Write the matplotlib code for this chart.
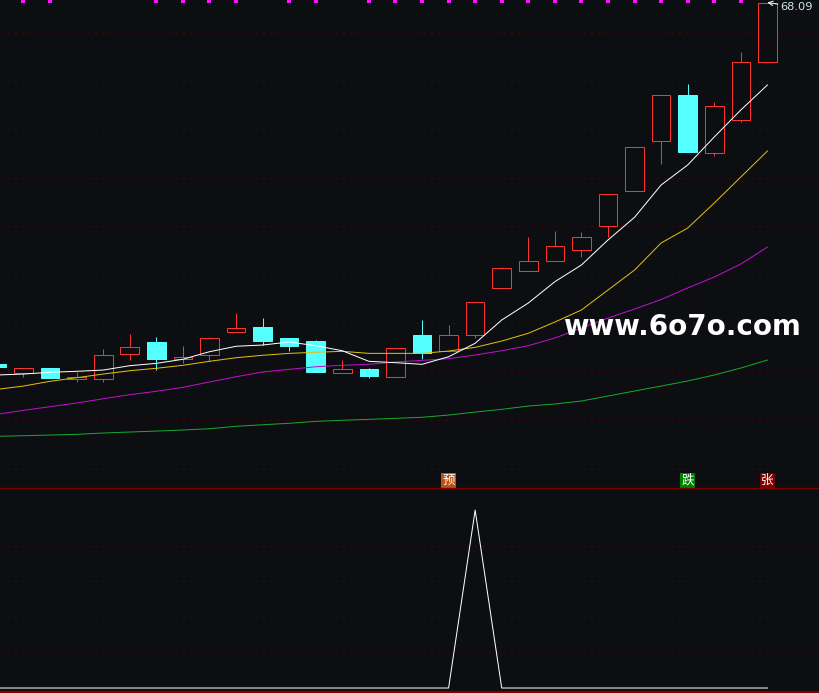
import matplotlib
matplotlib.use("Agg")
import matplotlib.pyplot as plt

plt.rcParams['font.family'] = ['Noto Sans CJK SC', 'DejaVu Sans']

BG = "#0d0e11"
RED = "#ff3232"
CYAN = "#54ffff"
GRID = "#4a0606"

# candles, index 0 is cut off by the left edge
opens = [30.82, 29.92, 30.41, 29.27, 29.31, 31.82, 33.09, 31.34, 31.72, 34.09,
         34.64, 33.5, 33.19, 29.92, 30.31, 29.51, 33.81, 32.19, 33.84, 38.63,
         40.38, 41.41, 42.54, 45.02, 48.63, 53.78, 58.56, 52.61, 55.95, 61.93]
closes = [30.51, 30.38, 29.38, 29.48, 31.72, 32.54, 31.34, 31.54, 33.47, 34.5,
          33.19, 32.68, 29.99, 30.31, 29.59, 32.44, 31.96, 33.78, 37.18, 40.69,
          41.41, 42.96, 43.88, 48.32, 53.16, 58.52, 52.71, 57.39, 61.93, 68.09]
highs = [30.82, 30.38, 30.41, 30.0, 32.37, 33.91, 33.61, 32.68, 33.61, 36.08,
         35.56, 33.5, 33.3, 31.23, 30.41, 32.44, 35.36, 34.84, 37.18, 40.82,
         43.92, 44.53, 44.43, 48.32, 53.16, 58.52, 59.69, 57.83, 62.99, 68.09]
lows = [30.51, 29.48, 29.38, 28.97, 28.97, 31.23, 30.2, 30.92, 31.13, 34.09,
        32.78, 32.16, 29.99, 29.92, 29.38, 29.51, 31.34, 32.16, 33.5, 38.63,
        40.38, 41.41, 41.85, 43.95, 48.63, 51.47, 52.71, 52.3, 55.77, 61.93]

# moving averages
ma_white = [29.69, 29.79, 29.97, 30.07, 30.2, 30.65, 30.89, 31.31, 32.09, 32.65,
            32.78, 33.09, 32.71, 32.19, 31.1, 30.96, 30.79, 31.57, 32.96, 35.36,
            37.11, 39.31, 41.03, 43.61, 45.95, 49.28, 51.34, 54.23, 57.01, 59.59]
ma_yellow = [28.21, 28.55, 29.04, 29.41, 29.79, 30.13, 30.38, 30.69, 31.1, 31.47,
             31.72, 31.92, 32.03, 32.13, 31.92, 31.92, 31.92, 32.16, 32.54, 33.19,
             33.99, 35.15, 36.39, 38.45, 40.51, 43.3, 44.84, 47.42, 50.1, 52.78]
ma_purple = [25.63, 26.05, 26.42, 26.8, 27.24, 27.66, 28.01, 28.42, 28.97, 29.51,
             30.0, 30.27, 30.54, 30.69, 30.79, 31.03, 31.2, 31.37, 31.75, 32.19,
             32.71, 33.5, 34.53, 35.56, 36.49, 37.47, 38.66, 39.79, 41.13, 42.88]
ma_green = [23.37, 23.43, 23.5, 23.57, 23.71, 23.81, 23.91, 24.02, 24.15, 24.4,
            24.56, 24.71, 24.91, 25.02, 25.12, 25.22, 25.33, 25.56, 25.87, 26.15,
            26.49, 26.7, 27.01, 27.52, 28.04, 28.55, 29.07, 29.69, 30.41, 31.23]

grid_prices = [65, 60, 55, 50, 45, 40, 35, 30, 25, 20]
marker_days = [1, 2, 6, 7, 8, 9, 11, 12, 14, 15, 16, 17, 18, 19, 20, 21, 22, 23,
               24, 25, 26, 27, 28]
signals = [(17, "预", "#c04f10"), (26, "跌", "#008000"), (29, "张", "#800000")]
lower_values = [0] * 18 + [1] + [0] * 11
lower_grid = [0.2, 0.4, 0.6, 0.8]

days = list(range(len(closes)))

fig = plt.figure(figsize=(8.2, 6.93), dpi=100, facecolor=BG)
ax = fig.add_axes([0, 1 - 488 / 693, 1, 488 / 693], facecolor=BG)
ax2 = fig.add_axes([0, 0, 1, 205 / 693], facecolor=BG)

xlim = (0.1155, 30.98)
ax.set_xlim(*xlim)
ax.set_ylim(18.04, 68.35)
ax.axis("off")
ax2.set_xlim(*xlim)
ax2.set_ylim(-0.028, 1.124)
ax2.axis("off")

for p in grid_prices:
    ax.axhline(p, color=GRID, lw=0.75, dashes=(2, 5), zorder=1)

for i in days:
    up = closes[i] >= opens[i]
    color = RED if up else CYAN
    ax.vlines(i, lows[i], highs[i], color=color, lw=0.72, zorder=2)
    bottom = min(opens[i], closes[i])
    height = abs(closes[i] - opens[i])
    ax.bar(i, height, 0.7, bottom=bottom, facecolor=BG if up else CYAN,
           edgecolor=color, lw=0.72, joinstyle="miter", zorder=3)

for values, color in [(ma_green, "#16a830"), (ma_purple, "#c010d0"),
                      (ma_yellow, "#e0c010"), (ma_white, "#ffffff")]:
    ax.plot(days, values, color=color, lw=0.72, zorder=4)

ax.scatter(marker_days, [68.2] * len(marker_days), marker="s", s=6, color="#ff10ff",
           lw=0, zorder=5)

ax.annotate("68.09", xy=(29, 68.09), xytext=(29.5, 67.62), color="#d0e6f8", fontsize=8.2,
            family="DejaVu Sans", va="center", ha="left", zorder=6,
            arrowprops=dict(arrowstyle="->", color="white", lw=0.7, shrinkA=0, shrinkB=0))

for day, label, color in signals:
    ax.text(day, 18.81, label, color="white", fontsize=9, ha="center", va="center",
            zorder=6, bbox=dict(facecolor=color, edgecolor="none", pad=0.8))

fig.text(0.8317, 0.5166, "www.6o7o.com", color="white", fontsize=20, fontweight="bold",
         family="DejaVu Sans", ha="center", va="baseline", zorder=7)

ax.axhline(18.04, color="#800000", lw=1.0, zorder=6, clip_on=False)

for g in lower_grid:
    ax2.axhline(g, color=GRID, lw=0.75, dashes=(2, 5), zorder=1)
ax2.plot(days, lower_values, color="white", lw=0.72, zorder=3)
ax2.axhline(-0.028, color="#800000", lw=3, zorder=4)

fig.savefig("out.png", dpi=100, facecolor=BG)
